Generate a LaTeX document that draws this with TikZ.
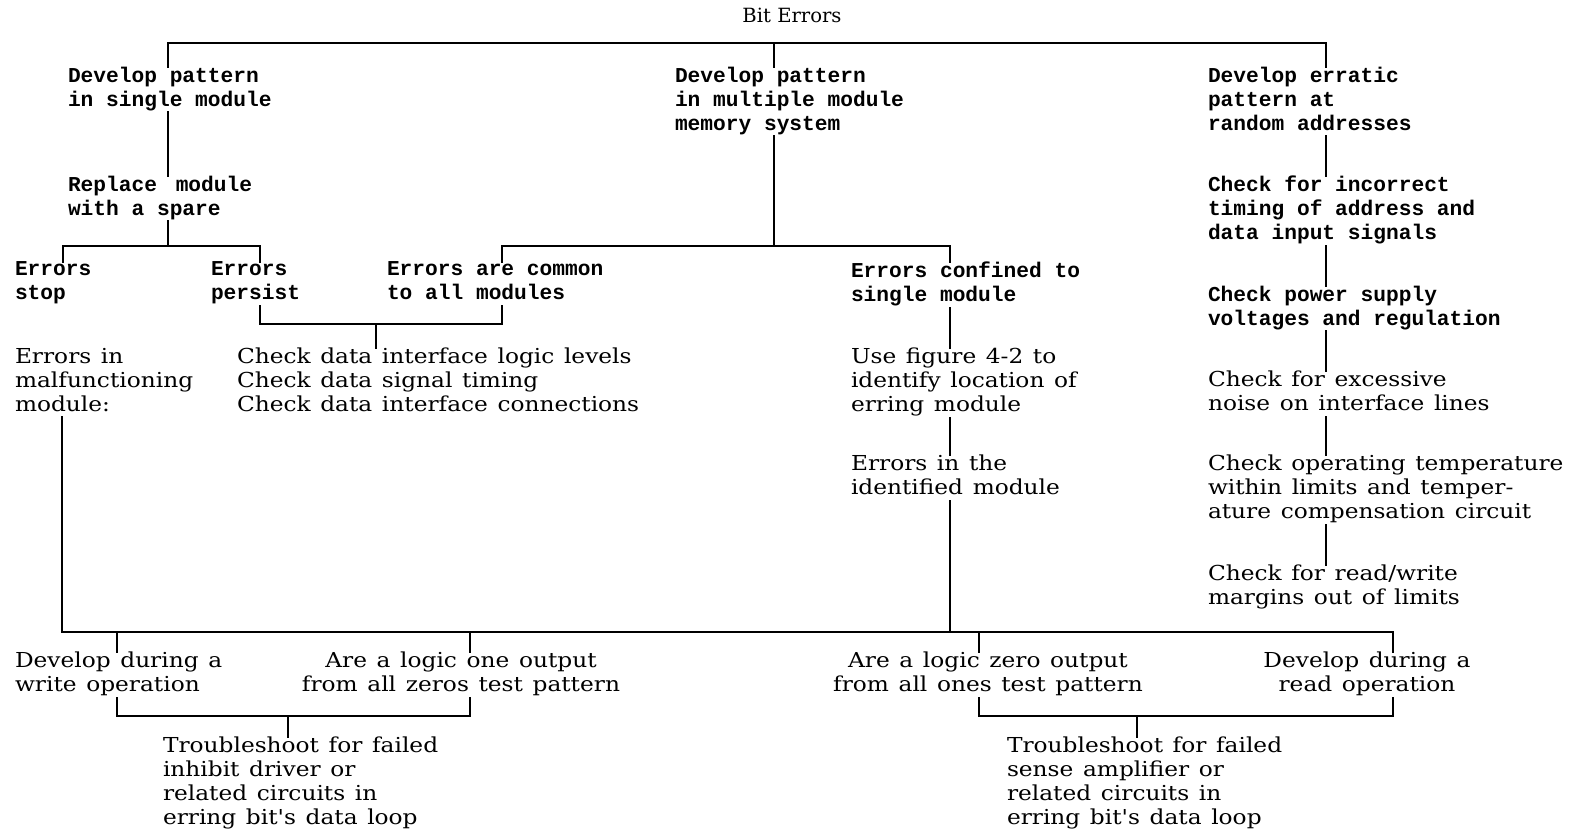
\documentclass[tikz,border=0pt]{standalone}
\usepackage{fontspec}
\newfontfamily\twfam[Ligatures=TeXOff]{Liberation Mono}
\newfontfamily\prfam[Ligatures=TeXOff,FakeStretch=1.13,WordSpace=1.3]{DejaVu Serif}
\newfontfamily\ttlfam{DejaVu Serif}
\newcommand\fTW{\twfam\bfseries\fontsize{10.6}{12}\selectfont}
\newcommand\fPR{\prfam\fontsize{10.3}{12}\selectfont}
\newcommand\myTop{\rule{0pt}{9.5pt}}
\newcommand\myBot{\rule[-3pt]{0pt}{3pt}}
\tikzset{
  txt/.style={inner sep=0pt, outer sep=0pt, execute at begin node=\myTop, execute at end node=\myBot},
  tw/.style={txt, anchor=north west, align=left, font=\fTW},
  pr/.style={txt, anchor=north west, align=left, font=\fPR},
  prc/.style={txt, anchor=north, align=center, font=\fPR},
  ln/.style={line width=1pt, line cap=rect},
}
\begin{document}
\begin{tikzpicture}[x=0.5pt, y=-0.5pt]
\path[fill=white, use as bounding box] (0,0) rectangle (1574,831);

% x positions of the connector columns
\coordinate (xA) at (168,0);
\coordinate (xM) at (774,0);
\coordinate (xR) at (1326,0);
\coordinate (x1) at (63,0);
\coordinate (x2) at (260,0);
\coordinate (x3) at (502,0);
\coordinate (x4) at (950,0);
\coordinate (xB) at (376,0);
\coordinate (xL) at (62,0);
\coordinate (x5) at (117,0);
\coordinate (x6) at (470,0);
\coordinate (x7) at (979,0);
\coordinate (x8) at (1393,0);
\coordinate (xD) at (288,0);
\coordinate (xE) at (1137,0);
% y levels of the bars
\coordinate (ybar) at (0,43);
\coordinate (yb2) at (0,246);
\coordinate (yk) at (0,324);
\coordinate (yb3) at (0,632);
\coordinate (yk2) at (0,716);

% title
\node[inner sep=0pt, anchor=base, font=\ttlfam\fontsize{9.8}{12}\selectfont] (title) at (792,22) {Bit Errors};

% typewriter texts
\node[tw] (dps) at (68,67) {Develop pattern\\in single module};
\node[tw] (rep) at (68,176) {Replace\kern3pt{} module\\with a spare};
\node[tw] (est) at (15,262) {Errors\\stop};
\node[tw] (epe) at (211,262) {Errors\\persist};
\node[tw] (eac) at (387,262) {Errors are common\\to all modules};
\node[tw] (dpm) at (675,67) {Develop pattern\\in multiple module\\memory system};
\node[tw] (ecs) at (851,262) {Errors confined to\\single module};
\node[tw] (dea) at (1208,67) {Develop erratic\\pattern at\\random addresses};
\node[tw] (cfi) at (1208,176) {Check for incorrect\\timing of address and\\data input signals};
\node[tw] (cps) at (1208,286) {Check power supply\\voltages and regulation};

% proportional texts
\node[pr] (eim) at (15,348) {Errors in\\malfunctioning\\module:};
\node[pr] (cdl) at (237,348) {Check data interface logic levels\\Check data signal timing\\Check data interface connections};
\node[pr] (ufg) at (851,348) {Use figure 4-2 to\\identify location of\\erring module};
\node[pr] (eit) at (851,455) {Errors in the\\identified module};
\node[pr] (cfe) at (1208,371) {Check for excessive\\noise on interface lines};
\node[pr] (cot) at (1208,455) {Check operating temperature\\within limits and temper-\\ature compensation circuit};
\node[pr] (crw) at (1208,565) {Check for read/write\\margins out of limits};
\node[pr] (ddw) at (15,652) {Develop during a\\write operation};
\node[prc] (alo) at (461,652) {Are a logic one output\\from all zeros test pattern};
\node[prc] (alz) at (988,652) {Are a logic zero output\\from all ones test pattern};
\node[prc] (ddr) at (1367,652) {Develop during a\\read operation};
\node[pr] (tsi) at (163,737) {Troubleshoot for failed\\inhibit driver or\\related circuits in\\erring bit's data loop};
\node[pr] (tss) at (1007,737) {Troubleshoot for failed\\sense amplifier or\\related circuits in\\erring bit's data loop};

% top bar
\draw[ln] (dps.north -| xA) -- (xA |- ybar) -| (dea.north -| xR);
\draw[ln] (dpm.north -| xM) -- (xM |- ybar);

% left column
\draw[ln] (dps.south -| xA) -- (rep.north -| xA);
\draw[ln] (rep.south -| xA) -- (xA |- yb2);
\draw[ln] (est.north -| x1) -- (x1 |- yb2) -| (epe.north -| x2);
\draw[ln] (epe.south -| x2) -- (x2 |- yk) -| (eac.south -| x3);
\draw[ln] (xB |- yk) -- (cdl.north -| xB);

% middle column
\draw[ln] (dpm.south -| xM) -- (xM |- yb2);
\draw[ln] (eac.north -| x3) -- (x3 |- yb2) -| (ecs.north -| x4);
\draw[ln] (ecs.south -| x4) -- (ufg.north -| x4);
\draw[ln] (ufg.south -| x4) -- (eit.north -| x4);
\draw[ln] (eit.south -| x4) -- (x4 |- yb3);

% right column
\draw[ln] (dea.south -| xR) -- (cfi.north -| xR);
\draw[ln] (cfi.south -| xR) -- (cps.north -| xR);
\draw[ln] (cps.south -| xR) -- (cfe.north -| xR);
\draw[ln] (cfe.south -| xR) -- (cot.north -| xR);
\draw[ln] (cot.south -| xR) -- (crw.north -| xR);

% bottom bar
\draw[ln] (eim.south -| xL) |- (x8 |- yb3) -- (ddr.north -| x8);
\draw[ln] (ddw.north -| x5) -- (x5 |- yb3);
\draw[ln] (alo.north -| x6) -- (x6 |- yb3);
\draw[ln] (alz.north -| x7) -- (x7 |- yb3);

% bottom brackets
\draw[ln] (ddw.south -| x5) -- (x5 |- yk2) -| (alo.south -| x6);
\draw[ln] (xD |- yk2) -- (tsi.north -| xD);
\draw[ln] (alz.south -| x7) -- (x7 |- yk2) -| (ddr.south -| x8);
\draw[ln] (xE |- yk2) -- (tss.north -| xE);
\end{tikzpicture}
\end{document}
